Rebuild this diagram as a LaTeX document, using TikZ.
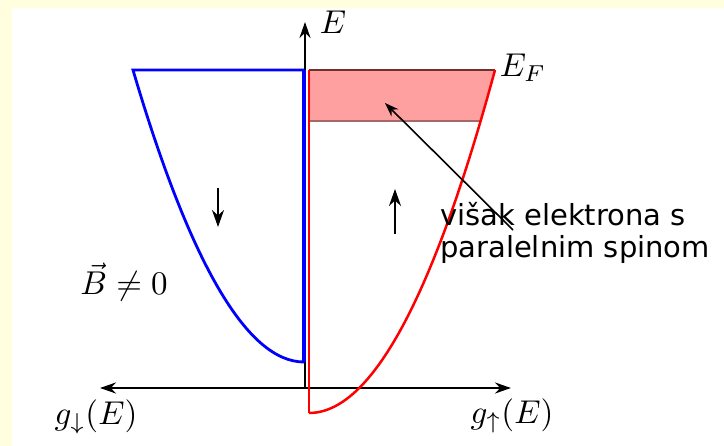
\documentclass[tikz,border=0pt]{standalone}
\usepackage{graphicx}
\usepackage{fontspec}
\newfontfamily\labelfont{DejaVu Sans}
\usetikzlibrary{arrows.meta}
\definecolor{bgyellow}{RGB}{255,255,224}
\definecolor{pinkfill}{RGB}{255,160,160}
\definecolor{pinktop}{RGB}{112,48,48}
\definecolor{pinkbot}{RGB}{165,105,105}
\definecolor{dosblue}{RGB}{0,0,255}
\definecolor{dosred}{RGB}{255,0,0}
\newcommand{\biglabel}[1]{\scalebox{3.3}{$#1$}}
\tikzset{
  axisline/.style={line width=2.4pt, black},
  spinarrow/.style={line width=2.2pt, -{Stealth[length=17pt,width=12pt]}},
  mathlabel/.style={inner sep=0pt},
  bluecurve/.style={line width=2.8pt, dosblue},
  redcurve/.style={line width=2.5pt, dosred},
}
\begin{document}
\begin{tikzpicture}[x=1pt,y=-1pt]
\useasboundingbox (0,0) rectangle (724,446);
\fill[bgyellow] (0,0) rectangle (724,446);
\fill[white] (12,8) rectangle (724,446);

% coordinates
\coordinate (O) at (305,388);
\coordinate (Etop) at (305,22);
\coordinate (Xleft) at (100,388);
\coordinate (Xright) at (511,388);
\coordinate (BL) at (133,70);
\coordinate (BT) at (304,70);
\coordinate (BB) at (304,362);
\coordinate (RT) at (309,70);
\coordinate (RB) at (309,413);
\coordinate (RR) at (495,70);
\coordinate (PR) at (480.6,121);
\coordinate (PL) at (309,121);

% pink excess region
\fill[pinkfill] (RT) -- (RR) -- (PR) -- (PL) -- cycle;
\draw[pinktop, line width=2pt] (RT) -- (RR);
\draw[pinkbot, line width=2pt] (PL) -- (PR);

% blue (spin down) DOS
\draw[bluecurve] (BB) .. controls (247.67,362) and (190.33,264.67) .. (BL) -- (BT);

% axes
\draw[axisline, -{Stealth[length=16pt,width=11pt]}] (O) -- (Etop);
\draw[axisline, {Stealth[length=16pt,width=11pt]}-{Stealth[length=16pt,width=11pt]}] (Xleft) -- (Xright);

\draw[dosblue, line width=4pt] (BB) -- (BT);

% red (spin up) DOS
\draw[dosred, line width=2.5pt] (RT) -- (RB);
\draw[redcurve] (RB) .. controls (371,413) and (433,298.67) .. (RR);

% spin arrows
\coordinate (dA) at (218,188);
\coordinate (dB) at (218,227);
\coordinate (uA) at (395,234);
\coordinate (uB) at (395,189);
\draw[spinarrow] (dA) -- (dB);
\draw[spinarrow] (uA) -- (uB);

% labels
\node[mathlabel] (lE) at (333,22) {\biglabel{E}};
\node[mathlabel] (lEF) at (523,68) {\biglabel{E_F}};
\node[mathlabel] (lgd) at (96,417) {\biglabel{g_\downarrow(E)}};
\node[mathlabel] (lgu) at (512,416) {\biglabel{g_\uparrow(E)}};
\node[mathlabel] (lB) at (124,282) {\biglabel{\vec B\neq 0}};

\node[anchor=base west, inner sep=0pt, align=left,
      font=\labelfont\fontsize{29}{32}\selectfont] (txt) at (440,258)
  {višak elektrona s\\paralelnim spinom};

\coordinate (tail) at (513,230);
\coordinate (tip) at (385,103);
\draw[line width=1.6pt, -{Stealth[length=14pt,width=10pt]}] (tail) -- (tip);
\end{tikzpicture}
\end{document}
